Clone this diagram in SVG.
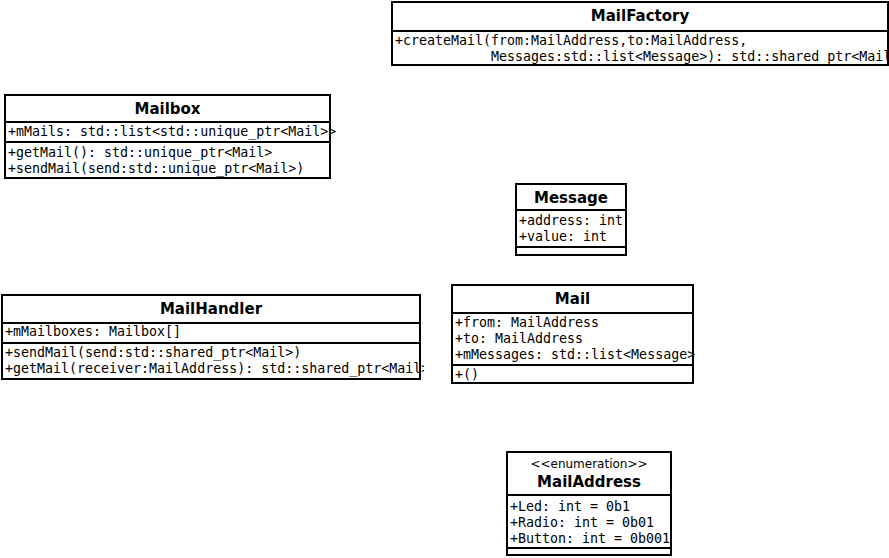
<svg xmlns="http://www.w3.org/2000/svg" width="889" height="558" viewBox="0 0 889 558">
<style>
.box{fill:#fff;stroke:#000;stroke-width:2}
.div{stroke:#000;stroke-width:2}
.t{font-family:"DejaVu Sans",sans-serif;font-weight:bold;font-size:15px;text-anchor:middle;fill:#000}
.st{font-family:"DejaVu Sans",sans-serif;font-size:12px;text-anchor:middle;fill:#000}
.m{font-family:"DejaVu Sans Mono",monospace;font-size:13.3px;fill:#000}
</style>
<defs>
<clipPath id="cF"><rect x="392" y="2" width="497" height="63"/></clipPath>
<clipPath id="cB"><rect x="5" y="95" width="331" height="83"/></clipPath>
<clipPath id="cMsg"><rect x="516" y="184" width="112" height="71"/></clipPath>
<clipPath id="cH"><rect x="2" y="295" width="422" height="84"/></clipPath>
<clipPath id="cM"><rect x="452" y="285" width="245" height="98"/></clipPath>
<clipPath id="cA"><rect x="507" y="452" width="166" height="103"/></clipPath>
</defs>
<g id="connectors"></g>
<g id="MailFactory">
<rect class="box" x="392" y="2" width="496" height="63"/>
<line class="div" x1="392" y1="31" x2="888" y2="31"/>
<text class="t" x="640" y="21">MailFactory</text>
<g clip-path="url(#cF)">
<text class="m" x="395" y="45">+createMail(from:MailAddress,to:MailAddress,</text>
<text class="m" x="491" y="61">Messages:std::list&lt;Message&gt;): std::shared_ptr&lt;Mail&gt;</text>
</g>
</g>
<g id="Mailbox">
<rect class="box" x="5" y="95" width="325" height="83"/>
<line class="div" x1="5" y1="122" x2="330" y2="122"/>
<line class="div" x1="5" y1="142" x2="330" y2="142"/>
<text class="t" x="167.5" y="114">Mailbox</text>
<g clip-path="url(#cB)">
<text class="m" x="8" y="136">+mMails: std::list&lt;std::unique_ptr&lt;Mail&gt;&gt;</text>
<text class="m" x="8" y="157">+getMail(): std::unique_ptr&lt;Mail&gt;</text>
<text class="m" x="8" y="173">+sendMail(send:std::unique_ptr&lt;Mail&gt;)</text>
</g>
</g>
<g id="Message">
<rect class="box" x="516" y="184" width="110" height="71"/>
<line class="div" x1="516" y1="210" x2="626" y2="210"/>
<line class="div" x1="516" y1="247" x2="626" y2="247"/>
<text class="t" x="571" y="203">Message</text>
<g clip-path="url(#cMsg)">
<text class="m" x="519" y="225">+address: int</text>
<text class="m" x="519" y="241">+value: int</text>
</g>
</g>
<g id="MailHandler">
<rect class="box" x="2" y="295" width="418" height="84"/>
<line class="div" x1="2" y1="323" x2="420" y2="323"/>
<line class="div" x1="2" y1="343" x2="420" y2="343"/>
<text class="t" x="211" y="314">MailHandler</text>
<g clip-path="url(#cH)">
<text class="m" x="5" y="336">+mMailboxes: Mailbox[]</text>
<text class="m" x="5" y="357">+sendMail(send:std::shared_ptr&lt;Mail&gt;)</text>
<text class="m" x="5" y="373">+getMail(receiver:MailAddress): std::shared_ptr&lt;Mail&gt;</text>
</g>
</g>
<g id="Mail">
<rect class="box" x="452" y="285" width="241" height="98"/>
<line class="div" x1="452" y1="313" x2="693" y2="313"/>
<line class="div" x1="452" y1="365" x2="693" y2="365"/>
<text class="t" x="572.5" y="304">Mail</text>
<g clip-path="url(#cM)">
<text class="m" x="455" y="327">+from: MailAddress</text>
<text class="m" x="455" y="343">+to: MailAddress</text>
<text class="m" x="455" y="359">+mMessages: std::list&lt;Message&gt;</text>
<text class="m" x="455" y="379">+()</text>
</g>
</g>
<g id="MailAddress">
<rect class="box" x="507" y="452" width="164" height="103"/>
<line class="div" x1="507" y1="495" x2="671" y2="495"/>
<line class="div" x1="507" y1="548" x2="671" y2="548"/>
<text class="st" x="589" y="468">&lt;&lt;enumeration&gt;&gt;</text>
<text class="t" x="589" y="487">MailAddress</text>
<g clip-path="url(#cA)">
<text class="m" x="510" y="511">+Led: int = 0b1</text>
<text class="m" x="510" y="527">+Radio: int = 0b01</text>
<text class="m" x="510" y="543">+Button: int = 0b001</text>
</g>
</g>
</svg>
